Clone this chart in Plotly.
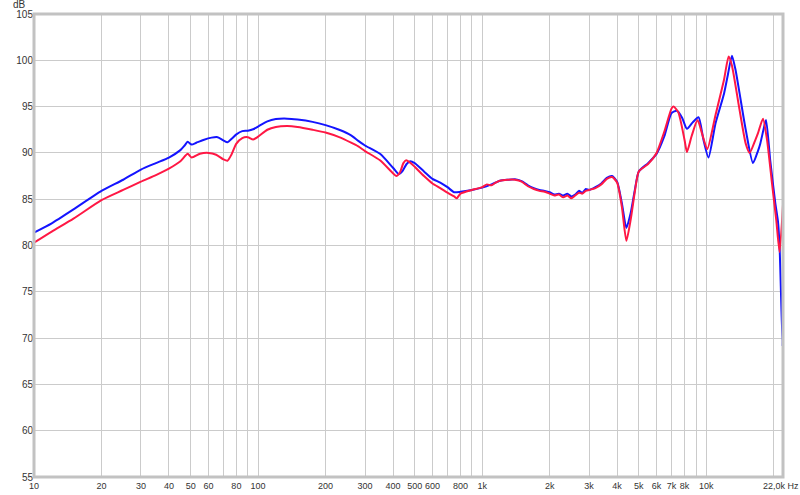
import plotly.graph_objects as go
import numpy as np

# ---- data ----
blue_freq = [10, 12, 15, 20, 25, 30, 35, 40, 45, 47, 48.5, 50.5, 53, 57, 62, 66, 70, 73, 76, 80, 85, 90, 95,
             100, 110, 120, 135, 150, 175, 200, 230, 260, 280, 300, 350, 400, 425, 440, 460, 477, 500, 550,
             600, 650, 700, 750, 800, 900, 1000, 1100, 1200, 1300, 1400, 1500, 1600, 1700, 1800, 1900, 2000,
             2100, 2200, 2300, 2400, 2500, 2600, 2700, 2800, 2900, 3000, 3200, 3400, 3600, 3800, 4000, 4200,
             4400, 4600, 4800, 5000, 5500, 6000, 6500, 7000, 7400, 7800, 8200, 8700, 9240, 9700, 10230,
             11000, 12000, 12500, 13020, 13500, 14000, 15000, 16160, 17000, 17420, 18000, 18480, 19310,
             20320, 20890, 21240, 21910, 22000]
blue_db = [81.4, 82.4, 83.9, 85.9, 87.1, 88.2, 88.9, 89.5, 90.3, 90.8, 91.2, 90.9, 91.1, 91.4, 91.65, 91.7,
           91.35, 91.15, 91.5, 92.0, 92.35, 92.4, 92.55, 92.85, 93.4, 93.65, 93.7, 93.6, 93.35, 93.0, 92.5,
           91.9, 91.3, 90.8, 89.9, 88.4, 87.7, 88.0, 88.8, 89.1, 88.9, 88.0, 87.2, 86.8, 86.3, 85.75, 85.8,
           86.0, 86.25, 86.6, 87.0, 87.1, 87.15, 86.95, 86.5, 86.2, 86.0, 85.9, 85.75, 85.5, 85.6, 85.4,
           85.6, 85.3, 85.5, 85.9, 85.7, 86.1, 86.0, 86.3, 86.7, 87.3, 87.5, 86.9, 84.6, 81.9, 83.5, 86.0,
           88.0, 88.9, 89.9, 91.8, 94.3, 94.55, 93.8, 92.6, 93.3, 93.85, 91.5, 89.5, 93.2, 96.4, 98.5,
           100.5, 99.0, 96.8, 92.5, 88.9, 90.2, 91.0, 92.5, 93.55, 89.1, 84.6, 82.6, 79.9, 69.1, 74.8]

red_freq = [10, 12, 15, 20, 25, 30, 35, 40, 45, 48.5, 50.5, 55, 60, 65, 70, 73, 76, 80, 85, 90, 95, 100,
            110, 120, 135, 150, 175, 200, 230, 260, 280, 300, 350, 400, 415, 430, 445, 458, 480, 500, 550,
            600, 650, 700, 750, 770, 800, 900, 1000, 1050, 1100, 1150, 1200, 1300, 1400, 1500, 1600, 1700,
            1800, 1900, 2000, 2100, 2200, 2300, 2400, 2500, 2600, 2700, 2800, 2900, 3000, 3200, 3400, 3600,
            3800, 4000, 4200, 4400, 4600, 4800, 5000, 5500, 6000, 6500, 7000, 7150, 7500, 8000, 8200, 8600,
            9140, 9600, 10100, 11000, 12000, 12580, 13000, 14000, 15000, 15610, 16500, 17000, 17910, 18670,
            19650, 20530, 21240, 22000]
red_db = [80.3, 81.5, 82.9, 84.9, 86.0, 86.9, 87.6, 88.3, 89.1, 89.9, 89.5, 89.9, 90.0, 89.8, 89.3, 89.15,
          89.8, 91.0, 91.6, 91.7, 91.45, 91.75, 92.5, 92.8, 92.9, 92.8, 92.5, 92.2, 91.7, 91.1, 90.7, 90.2,
          89.2, 87.8, 87.5, 87.9, 88.9, 89.2, 88.9, 88.5, 87.5, 86.7, 86.2, 85.7, 85.3, 85.1, 85.6, 86.0,
          86.3, 86.6, 86.5, 86.8, 87.0, 87.1, 87.1, 86.9, 86.4, 86.1, 85.9, 85.8, 85.6, 85.4, 85.5, 85.2,
          85.4, 85.1, 85.4, 85.7, 85.6, 85.9, 86.0, 86.2, 86.6, 87.2, 87.4, 86.8, 84.2, 80.5, 82.8, 85.8,
          88.0, 88.8, 90.0, 92.3, 94.8, 95.0, 94.4, 91.4, 90.1, 91.8, 93.55, 92.0, 90.4, 94.1, 97.9, 100.4,
          99.5, 95.0, 91.0, 90.0, 91.3, 92.1, 93.7, 91.4, 86.7, 82.75, 79.3, 84.4]

grid_freqs = [10, 20, 30, 40, 50, 60, 70, 80, 90, 100, 200, 300, 400, 500, 600, 700, 800, 900, 1000,
              2000, 3000, 4000, 5000, 6000, 7000, 8000, 9000, 10000, 20000]
grid_labels = ["10", "20", "30", "40", "50", "60", "", "80", "", "100", "200", "300", "400", "500", "600",
               "", "800", "", "1k", "2k", "3k", "4k", "5k", "6k", "7k", "8k", "", "10k", ""]
end_label = "22,0k Hz"
y_ticks = [55, 60, 65, 70, 75, 80, 85, 90, 95, 100, 105]

fig = go.Figure()
fig.add_trace(go.Scatter(x=blue_freq, y=blue_db, mode="lines",
                         line=dict(color="#1414ff", width=2, shape="spline", smoothing=0.6),
                         showlegend=False, hoverinfo="skip"))
fig.add_trace(go.Scatter(x=red_freq, y=red_db, mode="lines",
                         line=dict(color="#ff1744", width=2, shape="spline", smoothing=0.6),
                         showlegend=False, hoverinfo="skip"))

x_font = dict(family="Liberation Sans, Arial, sans-serif", size=9, color="#333333")
y_font = dict(family="Liberation Sans, Arial, sans-serif", size=10, color="#333333")

fig.update_layout(
    width=800, height=495,
    margin=dict(l=34, r=17, t=14, b=18, autoexpand=False),
    paper_bgcolor="white", plot_bgcolor="white",
    xaxis=dict(type="log", range=[1, np.log10(22000)], tickmode="array",
               tickvals=grid_freqs, ticktext=grid_labels, showgrid=True,
               gridcolor="#cbcbcb", gridwidth=1, zeroline=False, ticks="",
               tickfont=x_font, showline=False, tickangle=0, automargin=False,
               ticklabelstandoff=2),
    yaxis=dict(range=[55, 105], tickmode="array", tickvals=y_ticks,
               ticktext=[str(v) for v in y_ticks], showgrid=True, gridcolor="#cbcbcb",
               gridwidth=1, zeroline=False, ticks="", tickfont=y_font, showline=False,
               automargin=False),
    shapes=[dict(type="rect", xref="paper", yref="paper", x0=0, x1=1, y0=0, y1=1,
                 line=dict(color="#c2c2c2", width=3), fillcolor="rgba(0,0,0,0)", layer="above")],
    annotations=[
        dict(text="dB", xref="paper", yref="paper", x=0, y=1, xanchor="right",
             yanchor="bottom", xshift=-6, yshift=2, showarrow=False, font=y_font),
        dict(text=end_label, xref="paper", yref="paper", x=1, y=0, xanchor="center",
             yanchor="top", xshift=-2, yshift=-2, showarrow=False, font=x_font),
    ],
)

fig.write_html("out.html", config={"displayModeBar": False, "staticPlot": True},
               post_script="document.body.style.margin='0';document.body.style.padding='0';"
                           "document.body.style.overflow='hidden';")
